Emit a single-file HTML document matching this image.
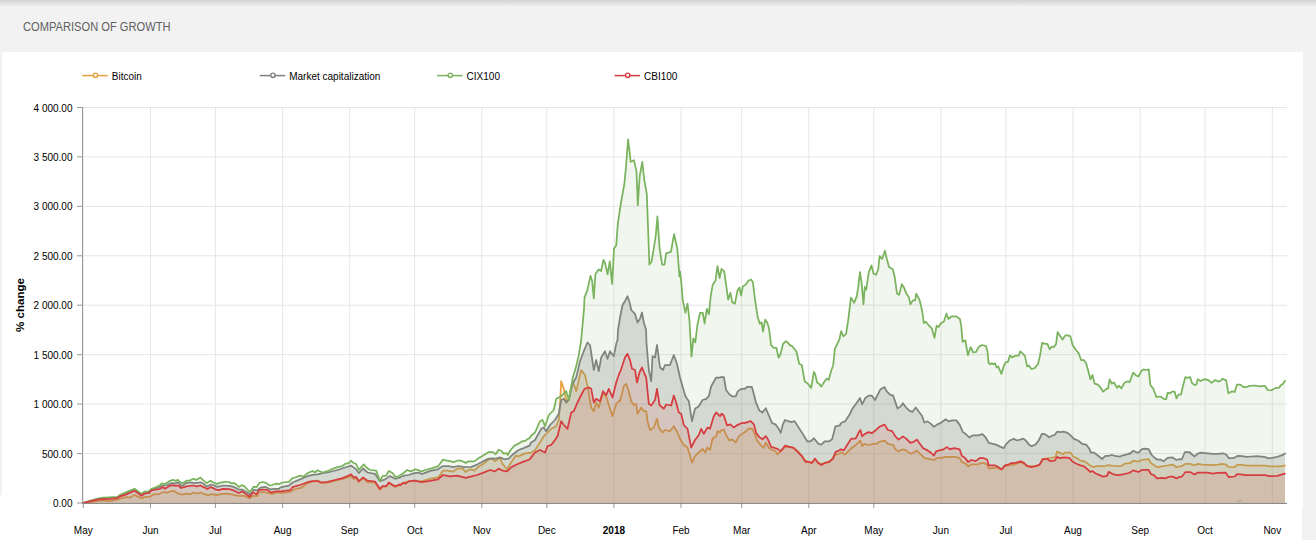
<!DOCTYPE html>
<html><head><meta charset="utf-8"><style>
html,body{margin:0;padding:0;}
body{width:1316px;height:560px;position:relative;overflow:hidden;background:#fff;font-family:"Liberation Sans",sans-serif;}
.bg{position:absolute;left:0;top:0;width:1316px;height:495px;background:#f2f2f2;}
.bg2{position:absolute;left:1302px;top:495px;width:14px;height:45px;background:#f2f2f2;}
.sh{position:absolute;left:0;top:0;width:1316px;height:7px;background:linear-gradient(#d3d3d3,#f2f2f2);}
.title{position:absolute;left:22.5px;top:20px;font-size:12px;color:#606060;white-space:nowrap;transform-origin:0 0;transform:scaleX(0.927);}
.card{position:absolute;left:2px;top:52px;width:1301px;height:456px;background:#fff;border-radius:1.5px;}
.card2{position:absolute;left:0;top:495px;width:1302px;height:65px;background:#fff;}
svg{position:absolute;left:0;top:0;}
.yl,.xl,.lg{font-family:"Liberation Sans",sans-serif;font-size:10px;fill:#000;}
.b{font-weight:bold;}
.at{font-family:"Liberation Sans",sans-serif;font-size:10px;font-weight:bold;fill:#000;}
</style></head><body>
<div class="bg"></div><div class="bg2"></div><div class="sh"></div>
<div class="title">COMPARISON OF GROWTH</div>
<div class="card"></div><div class="card2"></div>
<svg width="1316" height="560" viewBox="0 0 1316 560">
<line x1="82.3" y1="75.6" x2="107.8" y2="75.6" stroke="#e9a03e" stroke-width="1.5"/>
<circle cx="95.5" cy="75.3" r="2.15" fill="#fff" stroke="#e9a03e" stroke-width="1.4"/>
<text x="111.8" y="79.7" class="lg">Bitcoin</text>
<line x1="259.7" y1="75.6" x2="285.2" y2="75.6" stroke="#808080" stroke-width="1.5"/>
<circle cx="272.9" cy="75.3" r="2.15" fill="#fff" stroke="#808080" stroke-width="1.4"/>
<text x="289.2" y="79.7" class="lg">Market capitalization</text>
<line x1="437.1" y1="75.6" x2="462.6" y2="75.6" stroke="#7ab35d" stroke-width="1.5"/>
<circle cx="450.3" cy="75.3" r="2.15" fill="#fff" stroke="#7ab35d" stroke-width="1.4"/>
<text x="466.6" y="79.7" class="lg">CIX100</text>
<line x1="614.5" y1="75.6" x2="640.0" y2="75.6" stroke="#d63c40" stroke-width="1.5"/>
<circle cx="627.7" cy="75.3" r="2.15" fill="#fff" stroke="#d63c40" stroke-width="1.4"/>
<text x="644.0" y="79.7" class="lg">CBI100</text>
<line x1="83" y1="503.0" x2="1287" y2="503.0" stroke="#e6e6e6" stroke-width="1"/>
<line x1="77" y1="503.0" x2="83" y2="503.0" stroke="#999" stroke-width="1"/>
<text x="72.5" y="507.0" text-anchor="end" class="yl">0.00</text>
<line x1="83" y1="453.6" x2="1287" y2="453.6" stroke="#e6e6e6" stroke-width="1"/>
<line x1="77" y1="453.6" x2="83" y2="453.6" stroke="#999" stroke-width="1"/>
<text x="72.5" y="457.6" text-anchor="end" class="yl">500.00</text>
<line x1="83" y1="404.1" x2="1287" y2="404.1" stroke="#e6e6e6" stroke-width="1"/>
<line x1="77" y1="404.1" x2="83" y2="404.1" stroke="#999" stroke-width="1"/>
<text x="72.5" y="408.1" text-anchor="end" class="yl">1 000.00</text>
<line x1="83" y1="354.7" x2="1287" y2="354.7" stroke="#e6e6e6" stroke-width="1"/>
<line x1="77" y1="354.7" x2="83" y2="354.7" stroke="#999" stroke-width="1"/>
<text x="72.5" y="358.7" text-anchor="end" class="yl">1 500.00</text>
<line x1="83" y1="305.2" x2="1287" y2="305.2" stroke="#e6e6e6" stroke-width="1"/>
<line x1="77" y1="305.2" x2="83" y2="305.2" stroke="#999" stroke-width="1"/>
<text x="72.5" y="309.2" text-anchor="end" class="yl">2 000.00</text>
<line x1="83" y1="255.8" x2="1287" y2="255.8" stroke="#e6e6e6" stroke-width="1"/>
<line x1="77" y1="255.8" x2="83" y2="255.8" stroke="#999" stroke-width="1"/>
<text x="72.5" y="259.8" text-anchor="end" class="yl">2 500.00</text>
<line x1="83" y1="206.4" x2="1287" y2="206.4" stroke="#e6e6e6" stroke-width="1"/>
<line x1="77" y1="206.4" x2="83" y2="206.4" stroke="#999" stroke-width="1"/>
<text x="72.5" y="210.4" text-anchor="end" class="yl">3 000.00</text>
<line x1="83" y1="156.9" x2="1287" y2="156.9" stroke="#e6e6e6" stroke-width="1"/>
<line x1="77" y1="156.9" x2="83" y2="156.9" stroke="#999" stroke-width="1"/>
<text x="72.5" y="160.9" text-anchor="end" class="yl">3 500.00</text>
<line x1="83" y1="107.5" x2="1287" y2="107.5" stroke="#e6e6e6" stroke-width="1"/>
<line x1="77" y1="107.5" x2="83" y2="107.5" stroke="#999" stroke-width="1"/>
<text x="72.5" y="111.5" text-anchor="end" class="yl">4 000.00</text>
<line x1="83.3" y1="107.5" x2="83.3" y2="503" stroke="#e6e6e6" stroke-width="1"/>
<line x1="83.3" y1="503" x2="83.3" y2="508" stroke="#999" stroke-width="1"/>
<text x="83.3" y="534.2" text-anchor="middle" class="xl">May</text>
<line x1="150.5" y1="107.5" x2="150.5" y2="503" stroke="#e6e6e6" stroke-width="1"/>
<line x1="150.5" y1="503" x2="150.5" y2="508" stroke="#999" stroke-width="1"/>
<text x="150.5" y="534.2" text-anchor="middle" class="xl">Jun</text>
<line x1="215.4" y1="107.5" x2="215.4" y2="503" stroke="#e6e6e6" stroke-width="1"/>
<line x1="215.4" y1="503" x2="215.4" y2="508" stroke="#999" stroke-width="1"/>
<text x="215.4" y="534.2" text-anchor="middle" class="xl">Jul</text>
<line x1="282.6" y1="107.5" x2="282.6" y2="503" stroke="#e6e6e6" stroke-width="1"/>
<line x1="282.6" y1="503" x2="282.6" y2="508" stroke="#999" stroke-width="1"/>
<text x="282.6" y="534.2" text-anchor="middle" class="xl">Aug</text>
<line x1="349.7" y1="107.5" x2="349.7" y2="503" stroke="#e6e6e6" stroke-width="1"/>
<line x1="349.7" y1="503" x2="349.7" y2="508" stroke="#999" stroke-width="1"/>
<text x="349.7" y="534.2" text-anchor="middle" class="xl">Sep</text>
<line x1="414.7" y1="107.5" x2="414.7" y2="503" stroke="#e6e6e6" stroke-width="1"/>
<line x1="414.7" y1="503" x2="414.7" y2="508" stroke="#999" stroke-width="1"/>
<text x="414.7" y="534.2" text-anchor="middle" class="xl">Oct</text>
<line x1="481.8" y1="107.5" x2="481.8" y2="503" stroke="#e6e6e6" stroke-width="1"/>
<line x1="481.8" y1="503" x2="481.8" y2="508" stroke="#999" stroke-width="1"/>
<text x="481.8" y="534.2" text-anchor="middle" class="xl">Nov</text>
<line x1="546.8" y1="107.5" x2="546.8" y2="503" stroke="#e6e6e6" stroke-width="1"/>
<line x1="546.8" y1="503" x2="546.8" y2="508" stroke="#999" stroke-width="1"/>
<text x="546.8" y="534.2" text-anchor="middle" class="xl">Dec</text>
<line x1="613.9" y1="107.5" x2="613.9" y2="503" stroke="#e6e6e6" stroke-width="1"/>
<line x1="613.9" y1="503" x2="613.9" y2="508" stroke="#999" stroke-width="1"/>
<text x="613.9" y="534.2" text-anchor="middle" class="xl b">2018</text>
<line x1="681.0" y1="107.5" x2="681.0" y2="503" stroke="#e6e6e6" stroke-width="1"/>
<line x1="681.0" y1="503" x2="681.0" y2="508" stroke="#999" stroke-width="1"/>
<text x="681.0" y="534.2" text-anchor="middle" class="xl">Feb</text>
<line x1="741.7" y1="107.5" x2="741.7" y2="503" stroke="#e6e6e6" stroke-width="1"/>
<line x1="741.7" y1="503" x2="741.7" y2="508" stroke="#999" stroke-width="1"/>
<text x="741.7" y="534.2" text-anchor="middle" class="xl">Mar</text>
<line x1="808.8" y1="107.5" x2="808.8" y2="503" stroke="#e6e6e6" stroke-width="1"/>
<line x1="808.8" y1="503" x2="808.8" y2="508" stroke="#999" stroke-width="1"/>
<text x="808.8" y="534.2" text-anchor="middle" class="xl">Apr</text>
<line x1="873.8" y1="107.5" x2="873.8" y2="503" stroke="#e6e6e6" stroke-width="1"/>
<line x1="873.8" y1="503" x2="873.8" y2="508" stroke="#999" stroke-width="1"/>
<text x="873.8" y="534.2" text-anchor="middle" class="xl">May</text>
<line x1="940.9" y1="107.5" x2="940.9" y2="503" stroke="#e6e6e6" stroke-width="1"/>
<text x="940.9" y="534.2" text-anchor="middle" class="xl">Jun</text>
<line x1="1005.9" y1="107.5" x2="1005.9" y2="503" stroke="#e6e6e6" stroke-width="1"/>
<text x="1005.9" y="534.2" text-anchor="middle" class="xl">Jul</text>
<line x1="1073.0" y1="107.5" x2="1073.0" y2="503" stroke="#e6e6e6" stroke-width="1"/>
<text x="1073.0" y="534.2" text-anchor="middle" class="xl">Aug</text>
<line x1="1140.2" y1="107.5" x2="1140.2" y2="503" stroke="#e6e6e6" stroke-width="1"/>
<text x="1140.2" y="534.2" text-anchor="middle" class="xl">Sep</text>
<line x1="1205.1" y1="107.5" x2="1205.1" y2="503" stroke="#e6e6e6" stroke-width="1"/>
<text x="1205.1" y="534.2" text-anchor="middle" class="xl">Oct</text>
<line x1="1272.3" y1="107.5" x2="1272.3" y2="503" stroke="#e6e6e6" stroke-width="1"/>
<text x="1272.3" y="534.2" text-anchor="middle" class="xl">Nov</text>
<path d="M83.0,503.3 92.5,502.0 100.5,500.4 109.5,501.1 117.5,499.7 121.1,498.4 126.4,497.1 130.0,497.5 134.5,495.0 141.6,498.4 144.3,497.1 149.6,496.6 154.1,494.4 160.0,493.8 160.5,493.2 163.4,492.0 167.1,492.7 170.9,491.2 174.6,491.2 176.8,493.0 182.1,494.6 187.0,493.6 190.7,494.1 193.4,492.5 197.1,493.6 200.4,492.5 203.6,493.8 207.9,495.2 212.1,494.1 216.4,495.2 220.7,494.1 225.0,493.6 229.3,493.8 233.6,494.9 238.9,495.9 244.3,495.7 249.6,498.4 252.9,495.7 257.1,496.2 258.8,492.5 263.6,492.0 267.9,493.0 272.1,494.1 276.4,492.5 279.5,492.3 280.0,492.9 282.5,492.8 290.0,491.9 295.0,489.0 301.2,487.8 307.5,483.1 312.5,481.5 317.5,480.6 322.5,483.1 328.8,482.5 335.0,480.6 342.5,479.0 347.5,477.5 351.2,476.2 353.8,478.8 356.2,478.1 358.8,481.9 363.1,478.1 367.5,482.2 375.0,482.5 380.0,489.8 382.5,486.9 386.2,486.5 388.8,483.1 395.0,486.9 400.0,485.0 400.5,485.2 402.9,482.9 408.6,481.4 414.3,480.7 421.4,481.4 430.7,478.6 438.6,477.1 442.9,470.7 447.1,470.7 452.9,471.7 457.1,468.6 462.9,468.6 465.7,472.1 468.6,470.0 471.4,469.3 474.3,470.7 477.9,467.1 482.9,464.3 488.6,459.3 492.9,458.9 495.0,461.4 498.6,458.6 500.0,458.3 502.9,464.3 507.1,469.3 510.0,464.3 515.7,455.7 518.6,456.4 524.3,453.6 530.0,452.6 530.5,453.4 535.0,450.0 540.0,442.5 543.8,436.2 547.5,432.5 551.2,428.8 556.2,426.2 558.8,420.0 560.0,403.8 561.2,381.2 563.8,388.8 566.2,400.0 568.8,400.0 571.2,386.2 573.8,383.8 576.2,391.2 581.2,370.0 585.0,375.0 587.5,386.2 591.2,407.5 593.8,411.2 596.2,402.5 598.8,407.5 602.5,393.8 606.2,396.2 608.8,405.0 612.5,416.2 616.2,403.8 619.5,400.5 620.0,401.2 623.8,386.2 626.2,383.8 628.8,391.2 631.2,401.2 633.8,405.0 636.2,403.8 637.5,413.8 641.2,407.5 643.8,411.2 646.2,411.2 647.5,421.2 650.0,430.0 653.8,427.5 657.0,418.8 658.8,427.5 662.5,432.5 665.0,430.0 670.0,431.2 673.8,426.2 677.5,432.5 680.0,438.8 683.8,445.0 687.5,447.5 692.0,462.5 695.0,456.2 698.8,452.5 702.5,448.8 705.0,452.5 707.5,447.5 710.0,450.0 712.5,438.8 716.2,436.2 717.5,431.2 720.0,432.5 720.5,430.8 720.7,430.7 723.9,429.6 726.1,435.0 729.3,440.4 732.5,439.3 735.7,442.5 738.9,436.1 742.1,433.9 745.4,431.8 748.6,428.6 751.8,428.6 753.9,431.8 757.1,440.4 760.4,444.6 763.6,447.9 765.7,442.5 768.9,447.9 772.1,450.0 775.4,451.1 777.5,454.3 780.7,451.1 785.0,446.8 789.3,446.8 793.6,447.9 797.9,451.1 802.1,456.4 805.4,460.7 808.6,461.8 811.8,462.9 815.0,459.6 818.2,462.9 821.4,463.9 825.7,462.9 830.0,461.8 834.3,455.4 840.0,453.2 840.5,452.9 841.8,452.5 845.0,454.6 848.2,451.4 851.4,448.2 855.7,445.0 858.9,441.8 860.4,440.7 862.1,446.1 864.3,443.9 868.6,445.0 872.9,443.9 876.1,443.9 879.3,441.8 884.6,440.7 887.9,443.9 893.2,445.0 895.4,449.3 898.6,451.4 902.9,449.3 906.1,450.4 910.4,453.6 913.6,452.5 916.8,450.4 920.0,453.6 924.3,457.9 928.6,458.9 933.9,460.0 937.1,457.9 941.4,457.9 945.7,456.8 948.9,456.8 954.3,456.8 959.6,457.9 961.8,462.1 965.0,463.2 968.2,466.4 971.4,464.3 977.9,464.3 979.5,463.9 980.0,463.0 984.0,463.0 987.2,464.6 988.8,468.7 992.9,467.9 996.1,467.5 999.3,468.7 1001.7,469.1 1004.9,466.2 1008.9,465.4 1014.6,464.3 1021.0,462.2 1027.4,466.2 1035.4,466.2 1039.5,465.0 1043.5,459.0 1047.5,458.2 1051.5,457.9 1055.5,456.9 1057.1,451.5 1059.6,452.6 1062.8,454.2 1065.2,452.6 1070.8,452.6 1073.2,456.6 1077.2,458.2 1080.4,460.6 1083.7,461.1 1086.9,463.0 1090.1,465.4 1093.3,467.1 1096.5,466.2 1100.5,466.2 1105.4,465.9 1108.6,465.1 1113.4,465.9 1118.2,466.2 1121.4,465.9 1124.6,463.8 1129.5,463.0 1129.5,463.0 1130.0,463.3 1133.2,460.7 1137.8,461.6 1141.6,460.0 1148.7,459.1 1150.7,462.9 1153.9,464.9 1157.1,467.2 1162.3,466.4 1167.5,465.5 1172.6,464.6 1176.5,467.2 1181.7,466.2 1185.5,463.8 1190.1,463.8 1194.6,465.5 1197.8,463.8 1202.3,464.6 1211.4,465.1 1217.8,464.6 1222.4,463.8 1226.2,464.6 1228.2,466.8 1234.6,467.2 1237.0,464.9 1242.4,464.9 1246.3,465.5 1265.6,465.5 1268.9,466.4 1279.8,466.4 1285.0,465.5 L1285.0,503.0 L83.0,503.0 Z" fill="#e9a03e" fill-opacity="0.15" stroke="none"/>
<path d="M83.0,503.3 92.5,502.0 100.5,500.4 109.5,501.1 117.5,499.7 121.1,498.4 126.4,497.1 130.0,497.5 134.5,495.0 141.6,498.4 144.3,497.1 149.6,496.6 154.1,494.4 160.0,493.8 160.5,493.2 163.4,492.0 167.1,492.7 170.9,491.2 174.6,491.2 176.8,493.0 182.1,494.6 187.0,493.6 190.7,494.1 193.4,492.5 197.1,493.6 200.4,492.5 203.6,493.8 207.9,495.2 212.1,494.1 216.4,495.2 220.7,494.1 225.0,493.6 229.3,493.8 233.6,494.9 238.9,495.9 244.3,495.7 249.6,498.4 252.9,495.7 257.1,496.2 258.8,492.5 263.6,492.0 267.9,493.0 272.1,494.1 276.4,492.5 279.5,492.3 280.0,492.9 282.5,492.8 290.0,491.9 295.0,489.0 301.2,487.8 307.5,483.1 312.5,481.5 317.5,480.6 322.5,483.1 328.8,482.5 335.0,480.6 342.5,479.0 347.5,477.5 351.2,476.2 353.8,478.8 356.2,478.1 358.8,481.9 363.1,478.1 367.5,482.2 375.0,482.5 380.0,489.8 382.5,486.9 386.2,486.5 388.8,483.1 395.0,486.9 400.0,485.0 400.5,485.2 402.9,482.9 408.6,481.4 414.3,480.7 421.4,481.4 430.7,478.6 438.6,477.1 442.9,470.7 447.1,470.7 452.9,471.7 457.1,468.6 462.9,468.6 465.7,472.1 468.6,470.0 471.4,469.3 474.3,470.7 477.9,467.1 482.9,464.3 488.6,459.3 492.9,458.9 495.0,461.4 498.6,458.6 500.0,458.3 502.9,464.3 507.1,469.3 510.0,464.3 515.7,455.7 518.6,456.4 524.3,453.6 530.0,452.6 530.5,453.4 535.0,450.0 540.0,442.5 543.8,436.2 547.5,432.5 551.2,428.8 556.2,426.2 558.8,420.0 560.0,403.8 561.2,381.2 563.8,388.8 566.2,400.0 568.8,400.0 571.2,386.2 573.8,383.8 576.2,391.2 581.2,370.0 585.0,375.0 587.5,386.2 591.2,407.5 593.8,411.2 596.2,402.5 598.8,407.5 602.5,393.8 606.2,396.2 608.8,405.0 612.5,416.2 616.2,403.8 619.5,400.5 620.0,401.2 623.8,386.2 626.2,383.8 628.8,391.2 631.2,401.2 633.8,405.0 636.2,403.8 637.5,413.8 641.2,407.5 643.8,411.2 646.2,411.2 647.5,421.2 650.0,430.0 653.8,427.5 657.0,418.8 658.8,427.5 662.5,432.5 665.0,430.0 670.0,431.2 673.8,426.2 677.5,432.5 680.0,438.8 683.8,445.0 687.5,447.5 692.0,462.5 695.0,456.2 698.8,452.5 702.5,448.8 705.0,452.5 707.5,447.5 710.0,450.0 712.5,438.8 716.2,436.2 717.5,431.2 720.0,432.5 720.5,430.8 720.7,430.7 723.9,429.6 726.1,435.0 729.3,440.4 732.5,439.3 735.7,442.5 738.9,436.1 742.1,433.9 745.4,431.8 748.6,428.6 751.8,428.6 753.9,431.8 757.1,440.4 760.4,444.6 763.6,447.9 765.7,442.5 768.9,447.9 772.1,450.0 775.4,451.1 777.5,454.3 780.7,451.1 785.0,446.8 789.3,446.8 793.6,447.9 797.9,451.1 802.1,456.4 805.4,460.7 808.6,461.8 811.8,462.9 815.0,459.6 818.2,462.9 821.4,463.9 825.7,462.9 830.0,461.8 834.3,455.4 840.0,453.2 840.5,452.9 841.8,452.5 845.0,454.6 848.2,451.4 851.4,448.2 855.7,445.0 858.9,441.8 860.4,440.7 862.1,446.1 864.3,443.9 868.6,445.0 872.9,443.9 876.1,443.9 879.3,441.8 884.6,440.7 887.9,443.9 893.2,445.0 895.4,449.3 898.6,451.4 902.9,449.3 906.1,450.4 910.4,453.6 913.6,452.5 916.8,450.4 920.0,453.6 924.3,457.9 928.6,458.9 933.9,460.0 937.1,457.9 941.4,457.9 945.7,456.8 948.9,456.8 954.3,456.8 959.6,457.9 961.8,462.1 965.0,463.2 968.2,466.4 971.4,464.3 977.9,464.3 979.5,463.9 980.0,463.0 984.0,463.0 987.2,464.6 988.8,468.7 992.9,467.9 996.1,467.5 999.3,468.7 1001.7,469.1 1004.9,466.2 1008.9,465.4 1014.6,464.3 1021.0,462.2 1027.4,466.2 1035.4,466.2 1039.5,465.0 1043.5,459.0 1047.5,458.2 1051.5,457.9 1055.5,456.9 1057.1,451.5 1059.6,452.6 1062.8,454.2 1065.2,452.6 1070.8,452.6 1073.2,456.6 1077.2,458.2 1080.4,460.6 1083.7,461.1 1086.9,463.0 1090.1,465.4 1093.3,467.1 1096.5,466.2 1100.5,466.2 1105.4,465.9 1108.6,465.1 1113.4,465.9 1118.2,466.2 1121.4,465.9 1124.6,463.8 1129.5,463.0 1129.5,463.0 1130.0,463.3 1133.2,460.7 1137.8,461.6 1141.6,460.0 1148.7,459.1 1150.7,462.9 1153.9,464.9 1157.1,467.2 1162.3,466.4 1167.5,465.5 1172.6,464.6 1176.5,467.2 1181.7,466.2 1185.5,463.8 1190.1,463.8 1194.6,465.5 1197.8,463.8 1202.3,464.6 1211.4,465.1 1217.8,464.6 1222.4,463.8 1226.2,464.6 1228.2,466.8 1234.6,467.2 1237.0,464.9 1242.4,464.9 1246.3,465.5 1265.6,465.5 1268.9,466.4 1279.8,466.4 1285.0,465.5" fill="none" stroke="#e9a03e" stroke-width="1.75" stroke-linejoin="round" stroke-linecap="round"/>
<path d="M83.0,503.2 90.7,500.9 98.8,498.6 117.5,497.5 126.4,493.0 134.5,489.5 141.6,494.6 148.8,492.1 151.4,489.9 160.0,486.8 160.5,486.4 162.9,485.5 167.1,485.0 171.4,483.1 175.7,483.4 177.9,482.3 182.1,486.1 186.4,482.9 190.7,482.3 195.0,483.1 200.4,482.3 203.6,483.7 206.8,486.6 211.1,484.5 214.3,485.5 217.5,486.9 222.9,485.5 229.3,485.9 233.6,486.9 238.9,489.5 242.1,489.5 246.4,492.0 250.2,494.6 253.9,489.8 257.1,490.4 260.4,487.7 265.7,486.9 270.0,489.3 274.3,488.8 279.5,488.8 280.0,487.5 282.5,486.9 288.8,485.6 292.5,482.5 300.0,479.4 307.5,476.2 312.5,474.8 317.5,474.4 322.5,473.1 327.5,472.5 337.5,470.0 345.0,467.5 351.2,465.6 356.2,469.4 358.8,473.1 363.1,468.5 367.5,472.5 375.0,473.8 380.0,481.2 385.0,479.4 390.0,476.0 395.0,478.8 400.0,477.5 400.5,477.0 404.3,475.7 408.6,475.0 414.3,473.1 418.6,472.6 422.1,474.0 425.7,472.6 431.4,470.7 437.9,469.3 442.9,466.0 448.6,466.0 452.9,467.1 458.6,466.0 464.3,467.1 471.4,466.9 477.1,464.6 482.9,461.4 488.6,458.6 492.9,458.3 495.7,458.6 500.0,457.4 504.3,459.3 508.6,458.6 512.9,454.3 518.6,450.0 524.3,447.9 530.0,445.4 530.5,443.0 535.0,440.0 541.2,428.8 543.8,427.5 546.2,431.2 550.0,425.0 555.0,420.0 558.8,413.8 561.2,400.0 563.8,398.8 566.2,402.5 568.8,400.0 572.5,383.8 576.2,377.5 580.0,361.2 583.8,351.2 587.5,342.5 590.0,345.0 593.8,370.0 596.2,360.0 598.8,371.2 601.2,357.5 605.0,351.2 607.5,358.8 610.0,351.2 613.8,356.2 616.2,343.8 617.5,340.0 618.0,330.2 620.0,317.5 622.5,305.0 625.0,301.2 627.5,296.2 630.0,303.8 631.2,310.0 635.0,313.8 637.5,322.5 640.0,318.8 642.0,312.5 643.8,322.5 646.0,329.4 646.5,343.0 648.8,370.0 651.2,381.2 652.5,356.2 655.0,357.5 657.0,345.0 660.0,367.5 663.0,370.0 665.0,365.0 670.0,365.0 673.8,355.0 677.0,363.8 680.0,377.5 682.5,386.2 685.0,395.0 686.2,397.5 688.8,401.2 692.0,421.2 695.0,408.8 698.8,406.2 702.5,400.0 706.2,398.8 708.8,396.2 711.2,386.2 716.2,377.5 720.0,377.5 720.5,377.1 720.7,377.1 723.9,377.1 726.1,390.0 729.3,394.3 732.5,396.4 735.7,396.4 737.9,391.1 741.1,388.9 744.3,388.9 747.5,386.8 751.8,386.8 753.9,394.3 756.1,402.9 759.3,410.4 762.5,412.5 765.7,408.2 768.9,415.7 772.1,423.2 775.4,424.3 778.6,428.6 780.7,432.9 782.9,424.3 785.0,420.0 788.2,421.1 791.4,422.1 794.6,421.1 797.9,426.4 802.1,432.9 805.4,438.2 807.5,441.4 810.7,441.4 813.9,438.2 818.2,443.6 821.4,444.6 824.6,441.4 828.9,441.4 832.1,439.3 835.4,426.4 840.0,425.4 840.5,423.8 841.8,422.5 845.0,421.4 849.3,415.0 852.5,408.6 855.7,404.3 860.0,397.9 862.1,404.3 865.4,397.9 868.6,395.7 871.8,395.7 875.0,400.0 878.2,393.6 880.4,389.3 884.6,387.1 886.8,391.4 890.0,394.6 893.2,395.7 895.4,402.1 897.5,408.6 900.7,406.4 902.9,403.2 906.1,407.5 909.3,410.7 912.5,411.8 915.7,407.5 918.9,411.8 922.1,416.1 924.3,422.5 927.5,421.4 930.7,423.6 933.9,426.8 937.1,424.6 941.4,422.5 945.7,419.3 948.9,421.4 952.1,420.4 956.4,420.4 959.6,424.6 962.9,432.1 966.1,434.3 969.3,437.5 972.5,435.4 977.9,435.4 979.5,434.9 980.0,434.9 982.4,434.1 985.6,437.3 988.8,442.9 992.9,443.8 996.1,444.6 1000.1,446.6 1003.8,448.2 1005.7,444.6 1009.7,440.5 1013.8,438.9 1017.0,440.5 1020.2,439.7 1023.4,438.6 1025.8,440.5 1029.0,444.6 1031.4,446.2 1035.4,444.6 1038.7,440.5 1041.9,433.8 1045.1,434.1 1049.1,437.3 1051.5,436.0 1054.7,434.9 1057.1,431.7 1060.4,432.2 1063.6,431.7 1067.6,432.8 1070.8,435.7 1074.0,438.9 1078.0,440.5 1082.1,443.8 1086.1,444.6 1089.3,448.6 1090.9,452.6 1094.1,452.6 1098.1,455.8 1102.1,459.0 1105.4,455.8 1108.6,455.8 1111.8,455.0 1115.0,455.8 1119.8,456.6 1123.0,455.3 1127.9,454.2 1129.5,453.1 1130.0,453.9 1133.2,450.7 1135.8,452.0 1138.4,452.6 1141.6,449.4 1144.2,448.7 1148.7,449.1 1151.3,454.5 1155.2,458.4 1157.8,459.7 1160.4,459.5 1163.6,461.3 1167.5,457.8 1172.6,457.4 1176.5,460.0 1179.7,459.1 1181.7,459.5 1184.9,452.0 1189.4,452.0 1192.0,454.5 1194.6,456.5 1197.2,453.9 1201.0,452.6 1207.5,453.3 1212.7,453.9 1217.8,453.9 1223.0,453.3 1226.2,454.5 1228.8,458.2 1233.3,458.2 1237.9,455.8 1242.4,456.1 1246.3,456.9 1251.4,456.5 1256.6,456.1 1264.3,456.9 1268.9,458.4 1272.1,457.8 1277.3,456.9 1282.4,455.2 1285.0,453.5 L1285.0,503.0 L83.0,503.0 Z" fill="#808080" fill-opacity="0.25" stroke="none"/>
<path d="M83.0,503.2 90.7,500.9 98.8,498.6 117.5,497.5 126.4,493.0 134.5,489.5 141.6,494.6 148.8,492.1 151.4,489.9 160.0,486.8 160.5,486.4 162.9,485.5 167.1,485.0 171.4,483.1 175.7,483.4 177.9,482.3 182.1,486.1 186.4,482.9 190.7,482.3 195.0,483.1 200.4,482.3 203.6,483.7 206.8,486.6 211.1,484.5 214.3,485.5 217.5,486.9 222.9,485.5 229.3,485.9 233.6,486.9 238.9,489.5 242.1,489.5 246.4,492.0 250.2,494.6 253.9,489.8 257.1,490.4 260.4,487.7 265.7,486.9 270.0,489.3 274.3,488.8 279.5,488.8 280.0,487.5 282.5,486.9 288.8,485.6 292.5,482.5 300.0,479.4 307.5,476.2 312.5,474.8 317.5,474.4 322.5,473.1 327.5,472.5 337.5,470.0 345.0,467.5 351.2,465.6 356.2,469.4 358.8,473.1 363.1,468.5 367.5,472.5 375.0,473.8 380.0,481.2 385.0,479.4 390.0,476.0 395.0,478.8 400.0,477.5 400.5,477.0 404.3,475.7 408.6,475.0 414.3,473.1 418.6,472.6 422.1,474.0 425.7,472.6 431.4,470.7 437.9,469.3 442.9,466.0 448.6,466.0 452.9,467.1 458.6,466.0 464.3,467.1 471.4,466.9 477.1,464.6 482.9,461.4 488.6,458.6 492.9,458.3 495.7,458.6 500.0,457.4 504.3,459.3 508.6,458.6 512.9,454.3 518.6,450.0 524.3,447.9 530.0,445.4 530.5,443.0 535.0,440.0 541.2,428.8 543.8,427.5 546.2,431.2 550.0,425.0 555.0,420.0 558.8,413.8 561.2,400.0 563.8,398.8 566.2,402.5 568.8,400.0 572.5,383.8 576.2,377.5 580.0,361.2 583.8,351.2 587.5,342.5 590.0,345.0 593.8,370.0 596.2,360.0 598.8,371.2 601.2,357.5 605.0,351.2 607.5,358.8 610.0,351.2 613.8,356.2 616.2,343.8 617.5,340.0 618.0,330.2 620.0,317.5 622.5,305.0 625.0,301.2 627.5,296.2 630.0,303.8 631.2,310.0 635.0,313.8 637.5,322.5 640.0,318.8 642.0,312.5 643.8,322.5 646.0,329.4 646.5,343.0 648.8,370.0 651.2,381.2 652.5,356.2 655.0,357.5 657.0,345.0 660.0,367.5 663.0,370.0 665.0,365.0 670.0,365.0 673.8,355.0 677.0,363.8 680.0,377.5 682.5,386.2 685.0,395.0 686.2,397.5 688.8,401.2 692.0,421.2 695.0,408.8 698.8,406.2 702.5,400.0 706.2,398.8 708.8,396.2 711.2,386.2 716.2,377.5 720.0,377.5 720.5,377.1 720.7,377.1 723.9,377.1 726.1,390.0 729.3,394.3 732.5,396.4 735.7,396.4 737.9,391.1 741.1,388.9 744.3,388.9 747.5,386.8 751.8,386.8 753.9,394.3 756.1,402.9 759.3,410.4 762.5,412.5 765.7,408.2 768.9,415.7 772.1,423.2 775.4,424.3 778.6,428.6 780.7,432.9 782.9,424.3 785.0,420.0 788.2,421.1 791.4,422.1 794.6,421.1 797.9,426.4 802.1,432.9 805.4,438.2 807.5,441.4 810.7,441.4 813.9,438.2 818.2,443.6 821.4,444.6 824.6,441.4 828.9,441.4 832.1,439.3 835.4,426.4 840.0,425.4 840.5,423.8 841.8,422.5 845.0,421.4 849.3,415.0 852.5,408.6 855.7,404.3 860.0,397.9 862.1,404.3 865.4,397.9 868.6,395.7 871.8,395.7 875.0,400.0 878.2,393.6 880.4,389.3 884.6,387.1 886.8,391.4 890.0,394.6 893.2,395.7 895.4,402.1 897.5,408.6 900.7,406.4 902.9,403.2 906.1,407.5 909.3,410.7 912.5,411.8 915.7,407.5 918.9,411.8 922.1,416.1 924.3,422.5 927.5,421.4 930.7,423.6 933.9,426.8 937.1,424.6 941.4,422.5 945.7,419.3 948.9,421.4 952.1,420.4 956.4,420.4 959.6,424.6 962.9,432.1 966.1,434.3 969.3,437.5 972.5,435.4 977.9,435.4 979.5,434.9 980.0,434.9 982.4,434.1 985.6,437.3 988.8,442.9 992.9,443.8 996.1,444.6 1000.1,446.6 1003.8,448.2 1005.7,444.6 1009.7,440.5 1013.8,438.9 1017.0,440.5 1020.2,439.7 1023.4,438.6 1025.8,440.5 1029.0,444.6 1031.4,446.2 1035.4,444.6 1038.7,440.5 1041.9,433.8 1045.1,434.1 1049.1,437.3 1051.5,436.0 1054.7,434.9 1057.1,431.7 1060.4,432.2 1063.6,431.7 1067.6,432.8 1070.8,435.7 1074.0,438.9 1078.0,440.5 1082.1,443.8 1086.1,444.6 1089.3,448.6 1090.9,452.6 1094.1,452.6 1098.1,455.8 1102.1,459.0 1105.4,455.8 1108.6,455.8 1111.8,455.0 1115.0,455.8 1119.8,456.6 1123.0,455.3 1127.9,454.2 1129.5,453.1 1130.0,453.9 1133.2,450.7 1135.8,452.0 1138.4,452.6 1141.6,449.4 1144.2,448.7 1148.7,449.1 1151.3,454.5 1155.2,458.4 1157.8,459.7 1160.4,459.5 1163.6,461.3 1167.5,457.8 1172.6,457.4 1176.5,460.0 1179.7,459.1 1181.7,459.5 1184.9,452.0 1189.4,452.0 1192.0,454.5 1194.6,456.5 1197.2,453.9 1201.0,452.6 1207.5,453.3 1212.7,453.9 1217.8,453.9 1223.0,453.3 1226.2,454.5 1228.8,458.2 1233.3,458.2 1237.9,455.8 1242.4,456.1 1246.3,456.9 1251.4,456.5 1256.6,456.1 1264.3,456.9 1268.9,458.4 1272.1,457.8 1277.3,456.9 1282.4,455.2 1285.0,453.5" fill="none" stroke="#808080" stroke-width="1.75" stroke-linejoin="round" stroke-linecap="round"/>
<path d="M83.0,503.2 90.7,500.6 98.8,498.4 103.2,497.5 117.5,496.8 119.3,495.3 126.4,492.1 134.5,488.8 141.6,493.9 144.3,491.7 148.8,491.4 151.4,489.0 156.8,486.8 160.0,485.2 160.5,484.5 161.8,483.4 165.0,483.9 169.3,481.2 173.0,479.9 175.7,480.9 177.9,479.9 180.0,482.0 182.7,483.4 186.4,480.7 189.6,480.5 193.4,478.8 196.1,479.9 200.4,477.5 202.5,479.6 206.8,483.1 210.5,480.7 214.3,482.9 217.0,483.9 220.7,482.6 225.0,481.8 229.3,482.0 231.4,483.4 234.6,483.1 238.9,486.9 241.6,485.2 244.3,486.1 249.6,492.0 253.9,486.6 256.6,487.1 259.3,482.9 262.5,482.0 266.2,482.9 269.5,485.5 272.1,485.0 276.4,483.7 279.5,484.1 280.0,483.8 282.5,482.5 288.8,481.9 292.5,478.1 295.0,477.5 300.0,475.6 303.8,476.5 307.5,473.1 312.5,471.0 315.0,472.5 317.5,470.2 322.5,472.5 327.5,471.2 332.5,468.8 337.5,467.2 342.5,466.0 345.0,463.8 348.8,463.1 351.2,460.6 353.1,462.8 356.2,464.0 358.8,469.8 363.8,464.4 366.2,467.2 370.0,470.0 376.2,470.6 380.0,481.0 382.5,476.2 386.2,475.6 388.8,471.0 392.5,473.1 395.0,476.5 398.8,476.5 400.0,475.0 400.5,474.8 402.9,473.6 407.1,470.0 410.7,471.4 415.7,469.3 421.4,471.4 425.7,470.0 431.4,468.3 437.9,466.4 442.9,459.7 445.7,460.3 450.0,461.1 453.6,462.1 457.1,460.7 461.4,460.7 465.7,462.9 468.6,461.4 474.3,461.4 477.9,458.6 482.9,455.7 488.6,452.1 492.9,452.1 495.7,454.3 498.6,449.7 501.4,450.7 503.6,453.6 506.4,453.1 507.9,455.0 510.0,450.7 514.3,445.7 518.6,443.6 522.1,441.4 525.7,440.7 527.1,439.3 530.0,437.9 530.5,436.2 535.0,432.5 540.0,421.2 542.5,420.0 545.0,426.2 548.8,415.0 553.8,410.0 556.2,398.8 561.2,396.2 566.2,391.2 568.8,400.0 572.5,378.8 576.2,366.2 578.8,355.0 581.0,341.5 581.5,336.7 584.0,309.2 584.5,297.4 587.3,290.4 590.5,275.9 592.1,280.7 593.8,298.4 595.4,274.3 598.6,269.5 601.1,271.1 603.4,259.8 605.0,263.0 607.6,274.3 609.8,261.4 612.1,283.9 614.0,248.6 616.2,245.4 617.9,222.9 621.1,202.0 624.3,184.3 625.9,168.2 628.1,139.3 630.7,161.8 633.9,160.2 636.5,171.4 637.8,205.2 639.7,176.2 642.3,161.8 644.2,179.5 646.8,193.9 649.4,264.6 651.6,261.4 653.2,251.8 655.8,235.7 657.4,216.4 659.6,248.6 662.2,264.6 664.5,264.6 666.1,253.4 670.9,251.8 674.1,234.1 677.3,248.6 679.5,276.6 680.0,271.4 681.3,282.1 682.7,299.6 685.4,312.9 687.5,303.6 689.4,319.6 691.5,356.6 693.4,338.4 695.3,342.4 697.4,325.0 700.1,312.9 702.8,312.9 704.6,323.7 706.8,308.9 708.9,314.3 710.8,295.5 712.7,284.8 715.4,280.8 717.5,266.1 719.6,278.1 721.5,268.8 724.2,271.4 726.1,284.8 728.2,299.6 730.4,292.9 732.2,302.2 734.9,303.6 737.6,290.2 739.5,287.5 741.1,295.5 742.9,286.2 745.6,284.8 748.3,280.8 751.0,279.5 752.9,282.1 755.0,299.6 757.7,317.0 759.8,323.7 761.7,322.3 763.0,331.7 765.2,319.6 767.1,322.3 768.9,327.7 771.1,345.1 773.8,347.8 776.4,347.8 778.6,357.7 780.4,354.5 783.1,343.8 785.8,341.1 787.7,342.4 789.8,345.1 792.5,346.4 796.5,351.8 799.2,363.8 801.9,365.2 804.6,381.2 808.0,383.9 811.2,387.9 813.9,371.9 815.3,374.6 817.1,382.6 819.3,383.9 821.4,386.6 824.6,381.2 826.8,378.6 828.7,379.9 831.3,370.5 833.2,365.2 834.8,349.1 838.0,342.4 839.5,339.3 840.0,336.4 841.2,331.1 843.4,336.4 846.1,333.8 848.2,320.4 850.9,297.6 854.1,302.9 856.8,296.2 858.1,288.2 860.0,272.1 861.6,282.9 863.5,304.3 864.8,286.9 866.2,289.6 868.8,272.1 871.5,265.4 873.4,273.5 876.1,274.8 878.2,269.5 879.6,256.1 882.2,258.8 884.9,250.7 886.8,258.8 888.9,266.8 892.9,269.5 894.8,277.5 897.0,293.6 899.1,294.9 901.8,284.2 903.7,286.9 906.3,293.6 909.0,297.6 910.4,304.3 913.0,300.3 915.2,300.3 916.2,293.6 919.7,300.3 922.4,312.3 923.8,323.0 925.9,321.7 929.1,325.7 931.8,328.4 934.5,337.8 936.6,325.7 938.5,327.1 941.2,323.0 943.8,321.7 946.5,313.7 948.4,319.0 951.9,316.3 955.9,316.3 959.9,319.0 961.2,325.7 962.6,341.8 965.3,340.4 967.9,355.2 970.6,347.1 973.3,352.5 976.0,352.0 978.7,347.1 979.5,346.6 980.0,346.1 982.1,345.0 986.0,346.1 987.5,351.4 988.6,363.2 990.3,364.3 991.8,363.2 993.3,364.3 995.0,363.2 996.7,367.5 998.2,366.4 1001.4,373.9 1003.6,366.4 1005.7,362.1 1007.9,362.1 1010.0,355.3 1012.1,357.4 1015.4,355.7 1018.6,355.7 1020.3,351.4 1022.9,353.6 1025.0,356.1 1027.1,366.4 1028.9,365.4 1031.4,369.0 1034.6,368.1 1037.9,364.3 1040.0,355.7 1042.1,342.9 1045.4,343.9 1047.5,343.9 1049.6,349.3 1051.8,346.7 1053.9,347.1 1056.1,343.9 1057.6,332.1 1060.4,336.4 1062.5,339.6 1065.3,335.4 1067.9,335.4 1070.4,336.4 1072.6,345.0 1075.4,349.3 1078.6,353.1 1081.1,360.0 1083.9,360.0 1086.1,363.2 1088.2,370.7 1090.4,379.3 1092.5,375.0 1094.6,383.6 1097.9,384.6 1100.0,386.8 1103.2,391.7 1106.4,388.9 1108.1,388.3 1109.6,379.3 1111.8,383.6 1113.9,382.5 1117.1,387.9 1118.9,385.7 1121.4,388.3 1124.6,382.5 1127.9,381.4 1129.5,382.2 1130.0,381.0 1133.2,372.6 1135.8,375.2 1138.4,376.5 1141.6,370.7 1143.6,369.4 1146.1,370.0 1148.7,369.4 1150.4,384.9 1153.3,388.8 1156.5,397.2 1159.1,396.5 1161.6,397.2 1164.2,399.1 1166.2,399.1 1167.7,392.6 1170.0,393.3 1172.0,391.6 1174.6,391.6 1176.5,398.4 1178.4,394.6 1181.0,394.6 1182.3,388.8 1185.3,377.1 1187.5,377.8 1190.1,377.1 1192.0,382.9 1194.6,385.1 1196.5,384.2 1197.8,379.1 1200.4,381.0 1204.9,379.1 1208.8,380.4 1211.4,382.9 1215.3,380.0 1218.5,381.6 1220.4,381.0 1222.4,378.7 1226.2,380.4 1228.4,393.3 1232.1,391.3 1234.6,392.0 1237.0,384.6 1240.4,384.6 1243.7,387.2 1246.3,387.2 1249.5,385.9 1255.3,385.5 1259.2,386.4 1265.0,385.9 1267.6,390.0 1271.5,390.3 1274.0,388.8 1276.6,387.8 1279.2,387.7 1280.5,385.5 1283.1,383.8 1285.0,380.8 L1285.0,503.0 L83.0,503.0 Z" fill="#7ab35d" fill-opacity="0.1" stroke="none"/>
<path d="M83.0,503.2 90.7,500.6 98.8,498.4 103.2,497.5 117.5,496.8 119.3,495.3 126.4,492.1 134.5,488.8 141.6,493.9 144.3,491.7 148.8,491.4 151.4,489.0 156.8,486.8 160.0,485.2 160.5,484.5 161.8,483.4 165.0,483.9 169.3,481.2 173.0,479.9 175.7,480.9 177.9,479.9 180.0,482.0 182.7,483.4 186.4,480.7 189.6,480.5 193.4,478.8 196.1,479.9 200.4,477.5 202.5,479.6 206.8,483.1 210.5,480.7 214.3,482.9 217.0,483.9 220.7,482.6 225.0,481.8 229.3,482.0 231.4,483.4 234.6,483.1 238.9,486.9 241.6,485.2 244.3,486.1 249.6,492.0 253.9,486.6 256.6,487.1 259.3,482.9 262.5,482.0 266.2,482.9 269.5,485.5 272.1,485.0 276.4,483.7 279.5,484.1 280.0,483.8 282.5,482.5 288.8,481.9 292.5,478.1 295.0,477.5 300.0,475.6 303.8,476.5 307.5,473.1 312.5,471.0 315.0,472.5 317.5,470.2 322.5,472.5 327.5,471.2 332.5,468.8 337.5,467.2 342.5,466.0 345.0,463.8 348.8,463.1 351.2,460.6 353.1,462.8 356.2,464.0 358.8,469.8 363.8,464.4 366.2,467.2 370.0,470.0 376.2,470.6 380.0,481.0 382.5,476.2 386.2,475.6 388.8,471.0 392.5,473.1 395.0,476.5 398.8,476.5 400.0,475.0 400.5,474.8 402.9,473.6 407.1,470.0 410.7,471.4 415.7,469.3 421.4,471.4 425.7,470.0 431.4,468.3 437.9,466.4 442.9,459.7 445.7,460.3 450.0,461.1 453.6,462.1 457.1,460.7 461.4,460.7 465.7,462.9 468.6,461.4 474.3,461.4 477.9,458.6 482.9,455.7 488.6,452.1 492.9,452.1 495.7,454.3 498.6,449.7 501.4,450.7 503.6,453.6 506.4,453.1 507.9,455.0 510.0,450.7 514.3,445.7 518.6,443.6 522.1,441.4 525.7,440.7 527.1,439.3 530.0,437.9 530.5,436.2 535.0,432.5 540.0,421.2 542.5,420.0 545.0,426.2 548.8,415.0 553.8,410.0 556.2,398.8 561.2,396.2 566.2,391.2 568.8,400.0 572.5,378.8 576.2,366.2 578.8,355.0 581.0,341.5 581.5,336.7 584.0,309.2 584.5,297.4 587.3,290.4 590.5,275.9 592.1,280.7 593.8,298.4 595.4,274.3 598.6,269.5 601.1,271.1 603.4,259.8 605.0,263.0 607.6,274.3 609.8,261.4 612.1,283.9 614.0,248.6 616.2,245.4 617.9,222.9 621.1,202.0 624.3,184.3 625.9,168.2 628.1,139.3 630.7,161.8 633.9,160.2 636.5,171.4 637.8,205.2 639.7,176.2 642.3,161.8 644.2,179.5 646.8,193.9 649.4,264.6 651.6,261.4 653.2,251.8 655.8,235.7 657.4,216.4 659.6,248.6 662.2,264.6 664.5,264.6 666.1,253.4 670.9,251.8 674.1,234.1 677.3,248.6 679.5,276.6 680.0,271.4 681.3,282.1 682.7,299.6 685.4,312.9 687.5,303.6 689.4,319.6 691.5,356.6 693.4,338.4 695.3,342.4 697.4,325.0 700.1,312.9 702.8,312.9 704.6,323.7 706.8,308.9 708.9,314.3 710.8,295.5 712.7,284.8 715.4,280.8 717.5,266.1 719.6,278.1 721.5,268.8 724.2,271.4 726.1,284.8 728.2,299.6 730.4,292.9 732.2,302.2 734.9,303.6 737.6,290.2 739.5,287.5 741.1,295.5 742.9,286.2 745.6,284.8 748.3,280.8 751.0,279.5 752.9,282.1 755.0,299.6 757.7,317.0 759.8,323.7 761.7,322.3 763.0,331.7 765.2,319.6 767.1,322.3 768.9,327.7 771.1,345.1 773.8,347.8 776.4,347.8 778.6,357.7 780.4,354.5 783.1,343.8 785.8,341.1 787.7,342.4 789.8,345.1 792.5,346.4 796.5,351.8 799.2,363.8 801.9,365.2 804.6,381.2 808.0,383.9 811.2,387.9 813.9,371.9 815.3,374.6 817.1,382.6 819.3,383.9 821.4,386.6 824.6,381.2 826.8,378.6 828.7,379.9 831.3,370.5 833.2,365.2 834.8,349.1 838.0,342.4 839.5,339.3 840.0,336.4 841.2,331.1 843.4,336.4 846.1,333.8 848.2,320.4 850.9,297.6 854.1,302.9 856.8,296.2 858.1,288.2 860.0,272.1 861.6,282.9 863.5,304.3 864.8,286.9 866.2,289.6 868.8,272.1 871.5,265.4 873.4,273.5 876.1,274.8 878.2,269.5 879.6,256.1 882.2,258.8 884.9,250.7 886.8,258.8 888.9,266.8 892.9,269.5 894.8,277.5 897.0,293.6 899.1,294.9 901.8,284.2 903.7,286.9 906.3,293.6 909.0,297.6 910.4,304.3 913.0,300.3 915.2,300.3 916.2,293.6 919.7,300.3 922.4,312.3 923.8,323.0 925.9,321.7 929.1,325.7 931.8,328.4 934.5,337.8 936.6,325.7 938.5,327.1 941.2,323.0 943.8,321.7 946.5,313.7 948.4,319.0 951.9,316.3 955.9,316.3 959.9,319.0 961.2,325.7 962.6,341.8 965.3,340.4 967.9,355.2 970.6,347.1 973.3,352.5 976.0,352.0 978.7,347.1 979.5,346.6 980.0,346.1 982.1,345.0 986.0,346.1 987.5,351.4 988.6,363.2 990.3,364.3 991.8,363.2 993.3,364.3 995.0,363.2 996.7,367.5 998.2,366.4 1001.4,373.9 1003.6,366.4 1005.7,362.1 1007.9,362.1 1010.0,355.3 1012.1,357.4 1015.4,355.7 1018.6,355.7 1020.3,351.4 1022.9,353.6 1025.0,356.1 1027.1,366.4 1028.9,365.4 1031.4,369.0 1034.6,368.1 1037.9,364.3 1040.0,355.7 1042.1,342.9 1045.4,343.9 1047.5,343.9 1049.6,349.3 1051.8,346.7 1053.9,347.1 1056.1,343.9 1057.6,332.1 1060.4,336.4 1062.5,339.6 1065.3,335.4 1067.9,335.4 1070.4,336.4 1072.6,345.0 1075.4,349.3 1078.6,353.1 1081.1,360.0 1083.9,360.0 1086.1,363.2 1088.2,370.7 1090.4,379.3 1092.5,375.0 1094.6,383.6 1097.9,384.6 1100.0,386.8 1103.2,391.7 1106.4,388.9 1108.1,388.3 1109.6,379.3 1111.8,383.6 1113.9,382.5 1117.1,387.9 1118.9,385.7 1121.4,388.3 1124.6,382.5 1127.9,381.4 1129.5,382.2 1130.0,381.0 1133.2,372.6 1135.8,375.2 1138.4,376.5 1141.6,370.7 1143.6,369.4 1146.1,370.0 1148.7,369.4 1150.4,384.9 1153.3,388.8 1156.5,397.2 1159.1,396.5 1161.6,397.2 1164.2,399.1 1166.2,399.1 1167.7,392.6 1170.0,393.3 1172.0,391.6 1174.6,391.6 1176.5,398.4 1178.4,394.6 1181.0,394.6 1182.3,388.8 1185.3,377.1 1187.5,377.8 1190.1,377.1 1192.0,382.9 1194.6,385.1 1196.5,384.2 1197.8,379.1 1200.4,381.0 1204.9,379.1 1208.8,380.4 1211.4,382.9 1215.3,380.0 1218.5,381.6 1220.4,381.0 1222.4,378.7 1226.2,380.4 1228.4,393.3 1232.1,391.3 1234.6,392.0 1237.0,384.6 1240.4,384.6 1243.7,387.2 1246.3,387.2 1249.5,385.9 1255.3,385.5 1259.2,386.4 1265.0,385.9 1267.6,390.0 1271.5,390.3 1274.0,388.8 1276.6,387.8 1279.2,387.7 1280.5,385.5 1283.1,383.8 1285.0,380.8" fill="none" stroke="#7ab35d" stroke-width="1.75" stroke-linejoin="round" stroke-linecap="round"/>
<path d="M83.0,503.2 90.7,501.1 98.8,499.3 109.5,498.8 117.5,498.2 119.3,496.6 126.4,494.4 134.5,490.8 141.6,495.7 144.3,493.5 148.8,493.2 151.4,490.4 156.8,489.5 160.0,488.8 160.5,488.4 163.4,487.1 165.0,488.8 169.3,486.1 172.5,485.2 175.7,485.9 178.4,485.5 181.1,488.0 186.4,486.3 192.9,485.5 197.1,486.3 200.4,485.5 203.6,487.1 207.3,489.1 211.1,487.1 215.4,489.3 218.6,490.1 222.9,488.8 229.3,489.1 233.6,490.4 238.9,493.0 242.1,491.4 245.4,493.6 249.6,496.8 252.9,492.5 256.6,494.1 258.8,490.4 262.5,489.5 266.8,489.8 271.1,492.5 275.4,491.4 279.5,491.4 280.0,491.5 282.5,491.2 290.0,490.2 292.5,487.2 300.0,485.0 307.5,482.2 312.5,481.2 317.5,481.2 321.2,482.5 327.5,481.9 335.0,480.0 342.5,478.1 347.5,476.0 351.2,474.4 353.8,477.5 356.2,476.9 358.8,481.2 363.1,477.5 367.5,480.6 375.0,481.5 380.0,489.0 382.5,486.0 386.2,486.2 388.8,482.5 395.0,486.2 400.0,484.4 400.5,485.2 402.9,482.9 405.7,483.6 408.6,481.4 414.3,480.7 421.4,482.1 428.6,481.1 437.9,479.3 442.9,475.0 450.0,476.4 457.1,475.7 465.7,477.9 471.4,476.4 477.1,475.0 482.9,472.9 490.0,470.0 495.0,471.4 498.6,468.6 502.9,470.7 507.1,471.4 511.4,467.1 517.1,464.3 524.3,461.4 530.0,459.3 530.5,458.1 535.0,452.5 540.0,450.0 545.0,452.5 547.5,446.2 551.2,445.0 555.0,440.0 557.5,436.2 561.2,421.2 563.8,425.0 567.5,428.8 571.2,412.5 573.8,411.2 577.5,402.5 581.2,395.0 584.5,388.8 588.8,387.5 591.2,388.8 593.8,402.5 596.2,398.8 600.0,401.2 603.0,391.2 606.2,395.0 608.8,388.8 612.5,397.5 616.2,382.5 619.5,372.8 620.0,372.5 622.5,365.0 625.0,357.5 627.5,353.8 630.0,360.0 632.0,368.8 635.0,370.0 637.0,382.5 639.5,372.5 642.0,367.5 645.0,375.0 646.2,377.5 648.8,403.8 651.2,405.5 655.0,400.0 657.0,388.8 659.5,405.0 663.8,408.8 666.2,404.5 671.2,405.5 673.8,395.5 676.2,402.5 678.8,412.5 681.2,413.8 683.8,425.0 687.5,428.8 691.2,447.5 695.0,440.0 698.8,435.0 701.2,428.8 703.8,433.8 707.5,427.5 710.0,428.8 713.8,416.2 716.2,412.5 720.0,416.2 720.5,415.5 721.8,413.6 723.9,415.7 727.1,425.4 730.4,424.3 733.6,427.5 736.8,425.4 741.1,423.2 744.3,423.2 750.7,421.1 753.9,424.3 756.1,432.9 759.3,437.1 762.5,439.3 765.7,436.1 767.9,439.3 771.1,446.8 774.3,447.9 777.5,448.9 780.7,451.1 785.0,445.7 789.3,446.8 793.6,447.9 797.9,452.1 802.1,456.4 805.4,461.8 808.6,461.8 811.8,462.9 815.0,458.6 818.2,462.9 821.4,465.0 824.6,462.9 828.9,461.8 833.2,458.6 835.4,452.1 840.0,450.0 840.5,449.4 840.7,449.3 843.9,450.4 847.1,445.0 851.4,438.6 855.7,438.6 858.9,432.1 860.4,430.0 862.1,436.4 864.3,434.3 868.6,432.1 871.8,433.2 876.1,430.0 879.3,426.8 884.6,424.6 887.9,430.0 892.1,431.1 895.4,436.4 898.6,439.6 902.9,436.4 906.1,438.6 910.4,442.9 913.6,441.8 916.8,439.6 920.0,443.9 923.2,448.2 927.5,450.4 930.7,452.5 933.9,455.7 936.1,451.4 939.3,450.4 943.6,449.3 946.8,447.1 950.0,449.3 954.3,448.2 959.6,449.3 961.8,455.7 965.0,457.9 968.2,462.1 971.4,460.0 975.7,461.1 979.5,458.2 980.0,458.2 984.0,458.2 987.2,459.8 988.8,465.4 992.1,465.4 995.3,465.4 998.5,467.1 1001.7,469.5 1004.9,465.4 1008.9,464.3 1011.3,463.0 1014.6,463.0 1017.8,462.2 1021.0,461.4 1024.2,463.0 1027.4,466.2 1031.4,467.1 1035.4,466.2 1039.5,464.6 1042.7,459.0 1047.5,459.0 1049.9,461.1 1054.7,460.6 1057.1,456.9 1060.4,458.2 1063.6,457.4 1069.2,457.9 1072.4,461.4 1076.4,463.8 1080.4,465.4 1083.7,466.2 1086.9,468.7 1090.1,471.9 1092.5,471.1 1095.7,473.5 1099.7,475.1 1102.9,476.7 1107.0,475.9 1108.6,471.9 1113.4,474.3 1118.2,475.1 1123.0,474.3 1128.7,473.0 1129.5,472.5 1130.0,472.6 1133.2,470.3 1138.4,472.0 1142.3,469.8 1148.7,469.8 1150.7,473.9 1153.9,475.2 1157.1,478.4 1162.3,477.8 1165.5,478.4 1168.8,476.8 1172.6,476.5 1176.5,478.4 1179.7,476.8 1181.7,476.8 1185.5,472.0 1190.1,472.0 1194.6,474.6 1197.8,472.6 1207.5,472.6 1212.7,473.7 1217.8,472.9 1225.6,472.6 1228.8,477.2 1234.6,476.5 1237.2,474.2 1242.4,474.6 1246.3,475.2 1265.6,475.2 1268.9,476.2 1277.3,475.9 1279.8,475.2 1285.0,473.7 L1285.0,503.0 L83.0,503.0 Z" fill="#d63c40" fill-opacity="0.125" stroke="none"/>
<path d="M83.0,503.2 90.7,501.1 98.8,499.3 109.5,498.8 117.5,498.2 119.3,496.6 126.4,494.4 134.5,490.8 141.6,495.7 144.3,493.5 148.8,493.2 151.4,490.4 156.8,489.5 160.0,488.8 160.5,488.4 163.4,487.1 165.0,488.8 169.3,486.1 172.5,485.2 175.7,485.9 178.4,485.5 181.1,488.0 186.4,486.3 192.9,485.5 197.1,486.3 200.4,485.5 203.6,487.1 207.3,489.1 211.1,487.1 215.4,489.3 218.6,490.1 222.9,488.8 229.3,489.1 233.6,490.4 238.9,493.0 242.1,491.4 245.4,493.6 249.6,496.8 252.9,492.5 256.6,494.1 258.8,490.4 262.5,489.5 266.8,489.8 271.1,492.5 275.4,491.4 279.5,491.4 280.0,491.5 282.5,491.2 290.0,490.2 292.5,487.2 300.0,485.0 307.5,482.2 312.5,481.2 317.5,481.2 321.2,482.5 327.5,481.9 335.0,480.0 342.5,478.1 347.5,476.0 351.2,474.4 353.8,477.5 356.2,476.9 358.8,481.2 363.1,477.5 367.5,480.6 375.0,481.5 380.0,489.0 382.5,486.0 386.2,486.2 388.8,482.5 395.0,486.2 400.0,484.4 400.5,485.2 402.9,482.9 405.7,483.6 408.6,481.4 414.3,480.7 421.4,482.1 428.6,481.1 437.9,479.3 442.9,475.0 450.0,476.4 457.1,475.7 465.7,477.9 471.4,476.4 477.1,475.0 482.9,472.9 490.0,470.0 495.0,471.4 498.6,468.6 502.9,470.7 507.1,471.4 511.4,467.1 517.1,464.3 524.3,461.4 530.0,459.3 530.5,458.1 535.0,452.5 540.0,450.0 545.0,452.5 547.5,446.2 551.2,445.0 555.0,440.0 557.5,436.2 561.2,421.2 563.8,425.0 567.5,428.8 571.2,412.5 573.8,411.2 577.5,402.5 581.2,395.0 584.5,388.8 588.8,387.5 591.2,388.8 593.8,402.5 596.2,398.8 600.0,401.2 603.0,391.2 606.2,395.0 608.8,388.8 612.5,397.5 616.2,382.5 619.5,372.8 620.0,372.5 622.5,365.0 625.0,357.5 627.5,353.8 630.0,360.0 632.0,368.8 635.0,370.0 637.0,382.5 639.5,372.5 642.0,367.5 645.0,375.0 646.2,377.5 648.8,403.8 651.2,405.5 655.0,400.0 657.0,388.8 659.5,405.0 663.8,408.8 666.2,404.5 671.2,405.5 673.8,395.5 676.2,402.5 678.8,412.5 681.2,413.8 683.8,425.0 687.5,428.8 691.2,447.5 695.0,440.0 698.8,435.0 701.2,428.8 703.8,433.8 707.5,427.5 710.0,428.8 713.8,416.2 716.2,412.5 720.0,416.2 720.5,415.5 721.8,413.6 723.9,415.7 727.1,425.4 730.4,424.3 733.6,427.5 736.8,425.4 741.1,423.2 744.3,423.2 750.7,421.1 753.9,424.3 756.1,432.9 759.3,437.1 762.5,439.3 765.7,436.1 767.9,439.3 771.1,446.8 774.3,447.9 777.5,448.9 780.7,451.1 785.0,445.7 789.3,446.8 793.6,447.9 797.9,452.1 802.1,456.4 805.4,461.8 808.6,461.8 811.8,462.9 815.0,458.6 818.2,462.9 821.4,465.0 824.6,462.9 828.9,461.8 833.2,458.6 835.4,452.1 840.0,450.0 840.5,449.4 840.7,449.3 843.9,450.4 847.1,445.0 851.4,438.6 855.7,438.6 858.9,432.1 860.4,430.0 862.1,436.4 864.3,434.3 868.6,432.1 871.8,433.2 876.1,430.0 879.3,426.8 884.6,424.6 887.9,430.0 892.1,431.1 895.4,436.4 898.6,439.6 902.9,436.4 906.1,438.6 910.4,442.9 913.6,441.8 916.8,439.6 920.0,443.9 923.2,448.2 927.5,450.4 930.7,452.5 933.9,455.7 936.1,451.4 939.3,450.4 943.6,449.3 946.8,447.1 950.0,449.3 954.3,448.2 959.6,449.3 961.8,455.7 965.0,457.9 968.2,462.1 971.4,460.0 975.7,461.1 979.5,458.2 980.0,458.2 984.0,458.2 987.2,459.8 988.8,465.4 992.1,465.4 995.3,465.4 998.5,467.1 1001.7,469.5 1004.9,465.4 1008.9,464.3 1011.3,463.0 1014.6,463.0 1017.8,462.2 1021.0,461.4 1024.2,463.0 1027.4,466.2 1031.4,467.1 1035.4,466.2 1039.5,464.6 1042.7,459.0 1047.5,459.0 1049.9,461.1 1054.7,460.6 1057.1,456.9 1060.4,458.2 1063.6,457.4 1069.2,457.9 1072.4,461.4 1076.4,463.8 1080.4,465.4 1083.7,466.2 1086.9,468.7 1090.1,471.9 1092.5,471.1 1095.7,473.5 1099.7,475.1 1102.9,476.7 1107.0,475.9 1108.6,471.9 1113.4,474.3 1118.2,475.1 1123.0,474.3 1128.7,473.0 1129.5,472.5 1130.0,472.6 1133.2,470.3 1138.4,472.0 1142.3,469.8 1148.7,469.8 1150.7,473.9 1153.9,475.2 1157.1,478.4 1162.3,477.8 1165.5,478.4 1168.8,476.8 1172.6,476.5 1176.5,478.4 1179.7,476.8 1181.7,476.8 1185.5,472.0 1190.1,472.0 1194.6,474.6 1197.8,472.6 1207.5,472.6 1212.7,473.7 1217.8,472.9 1225.6,472.6 1228.8,477.2 1234.6,476.5 1237.2,474.2 1242.4,474.6 1246.3,475.2 1265.6,475.2 1268.9,476.2 1277.3,475.9 1279.8,475.2 1285.0,473.7" fill="none" stroke="#d63c40" stroke-width="1.75" stroke-linejoin="round" stroke-linecap="round"/>
<line x1="82.5" y1="107" x2="82.5" y2="503.5" stroke="#999" stroke-width="1"/>
<line x1="82.5" y1="503.5" x2="1287" y2="503.5" stroke="#8c8c8c" stroke-width="1"/>
<path d="M1237.2,500.2 Q1239.5,502.3 1241.8,500.2" fill="none" stroke="#9a9a9a" stroke-width="0.9"/>
<text transform="translate(24,305) rotate(-90)" text-anchor="middle" class="at" textLength="54" lengthAdjust="spacingAndGlyphs">% change</text>
</svg>
</body></html>
